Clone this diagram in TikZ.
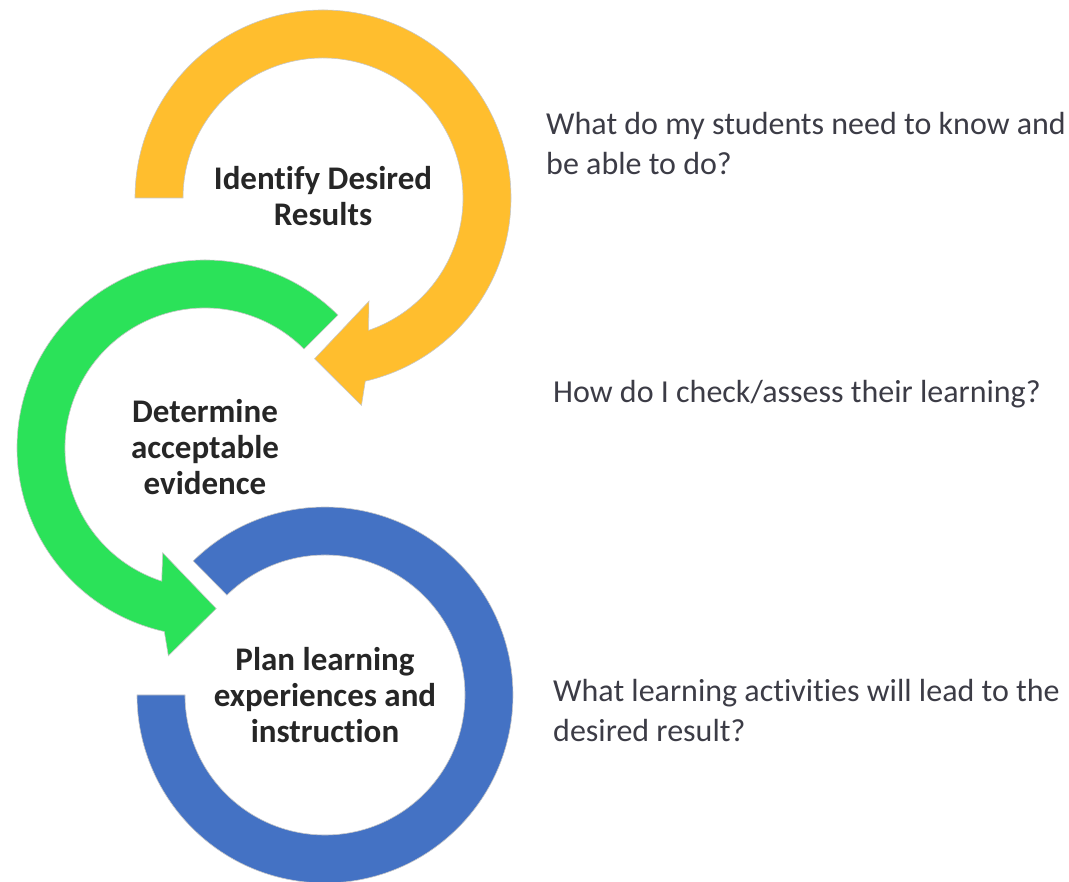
\documentclass[tikz,border=0pt]{standalone}
\usepackage{fontspec}
\setmainfont{Carlito}[Ligatures=NoCommon]
\usepackage{tikz}
\usetikzlibrary{positioning}
\definecolor{ringyellow}{RGB}{255,190,46}
\definecolor{ringgreen}{RGB}{43,226,89}
\definecolor{ringblue}{RGB}{68,114,196}
\definecolor{labelgray}{RGB}{38,38,38}
\definecolor{askgray}{RGB}{60,60,70}
\tikzset{
  ring/.style={draw=black!22, line width=0.6pt, line join=miter},
  steplabel/.style={align=center, text=labelgray, inner sep=0pt,
    font=\fontsize{33pt}{36pt}\selectfont\bfseries},
  question/.style={align=left, text=askgray, inner sep=0pt,
    font=\fontsize{32pt}{40pt}\selectfont}
}

\begin{document}
\begin{tikzpicture}
        \useasboundingbox (0,0) rectangle (1069pt,882pt);
        \coordinate (YC) at (323pt,684pt); 
        \coordinate (GC) at (205pt,434pt); 
        \coordinate (BC) at (325pt,187pt); 
        % the three circular arrows
        \draw [ring, fill=ringyellow] ([shift={(180:188pt)}]YC) arc [start angle=180, end angle=-77, radius=188pt] 
                -- ([shift={(-79.5:211pt)}]YC) -- ([shift={(-93:161pt)}]YC) -- ([shift={(-66:113pt)}]YC) 
                -- ([shift={(-71:140pt)}]YC) arc [start angle=-71, end angle=180, radius=140pt] -- cycle; 
        \draw [ring, fill=ringgreen] ([shift={(45:188pt)}]GC) arc [start angle=45, end angle=257.5, radius=188pt] 
                -- ([shift={(260:211pt)}]GC) -- ([shift={(274:161pt)}]GC) -- ([shift={(248:113pt)}]GC) 
                -- ([shift={(252:140pt)}]GC) arc [start angle=252, end angle=45, radius=140pt] -- cycle; 
        \draw [ring, fill=ringblue] ([shift={(134.5:188pt)}]BC) arc [start angle=134.5, end angle=-180, radius=188pt] 
                -- ([shift={(180:140pt)}]BC) arc [start angle=-180, end angle=134.5, radius=140pt] -- cycle; 
        % labels in the rings
        \node [steplabel] (YL) at ([yshift=2pt]YC) {Identify Desired\\Results}; 
        \node [steplabel] (GL) at ([yshift=1pt]GC) {Determine\\acceptable\\evidence}; 
        \node [steplabel] (BL) at (BC) {Plan learning\\experiences and\\instruction}; 
        % questions on the right (base is the last line)
        \node [question, anchor=base west] (YQ) at (546pt,707pt) {What do my students need to know and\\be able to do?}; 
        \node [question, anchor=base west] (GQ) at (553pt,479pt) {How do I check/assess their learning?}; 
        \node [question, anchor=base west] (BQ) at (553pt,140pt) {What learning activities will lead to the\\desired result?}; 
\end{tikzpicture}
\end{document}
